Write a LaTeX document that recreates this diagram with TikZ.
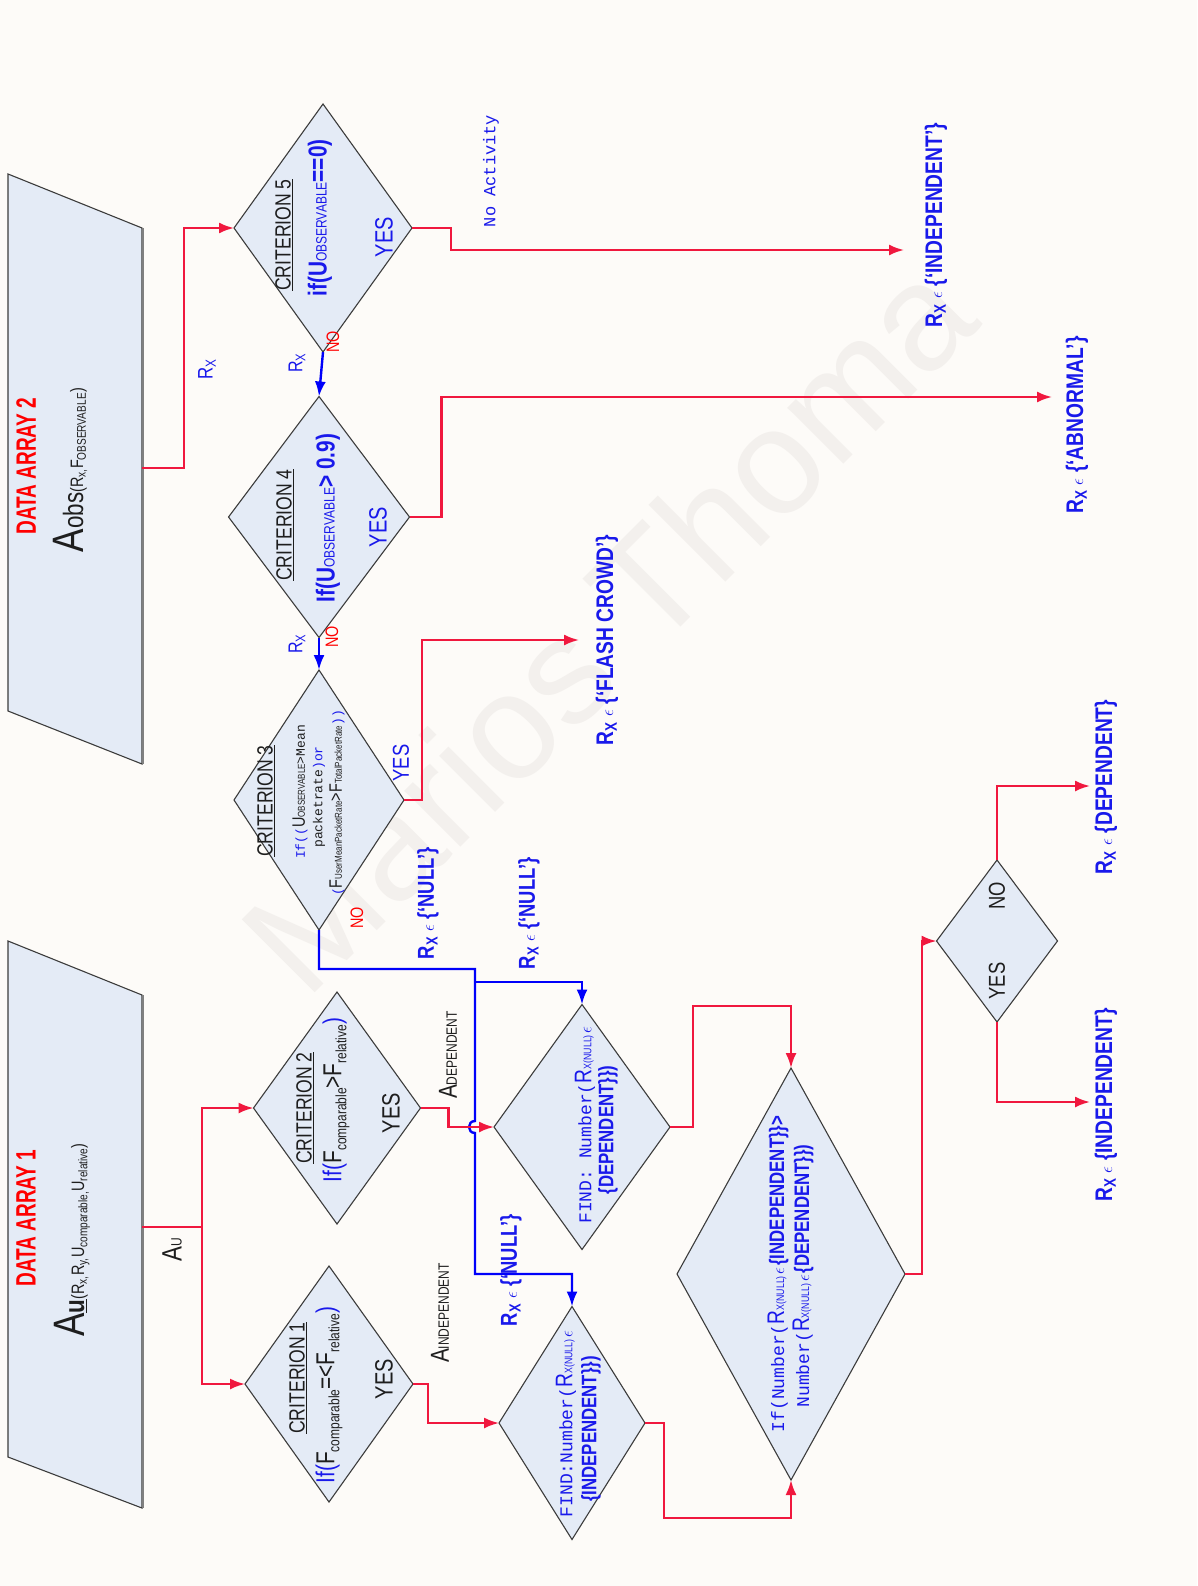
\documentclass[tikz,border=0pt]{standalone}
\usepackage{fontspec}
\setmainfont{Liberation Sans}
\newfontfamily\nar[FakeStretch=0.8]{Liberation Sans}
\newfontfamily\narr[FakeStretch=0.68]{Liberation Sans}
\newfontfamily\mon{Liberation Mono}
\usetikzlibrary{shapes.geometric,arrows.meta}

\definecolor{bg}{RGB}{253,251,248}
\definecolor{boxfill}{RGB}{228,235,246}
\definecolor{edge}{RGB}{60,60,60}
\definecolor{fr}{RGB}{240,24,62}
\definecolor{bl}{RGB}{0,0,250}
\definecolor{tb}{RGB}{25,25,235}
\definecolor{ink}{RGB}{30,30,30}
\definecolor{wm}{RGB}{243,240,237}

\newcommand\fs[1]{\fontsize{#1}{#1}\selectfont}
\newcommand\eps{{\fs{17}$\epsilon$}}

\tikzset{
  dec/.style={shape=diamond, draw=edge, fill=boxfill, line width=1.1pt,
              inner sep=0pt, outer sep=0pt},
  redline/.style={draw=fr, line width=2.2pt, line join=miter,
                  -{Latex[length=15pt,width=11pt]}},
  redplain/.style={draw=fr, line width=2.2pt},
  blueline/.style={draw=bl, line width=2.4pt,
                  -{Latex[length=15pt,width=11pt]}},
  txt/.style={rotate=90, inner sep=0pt, align=center, text=ink},
  res/.style={txt, text=tb, font=\nar\bfseries\fs{24}},
}

\begin{document}
\begin{tikzpicture}[x=1pt, y=-1pt]
\useasboundingbox (0,0) rectangle (1197,1586);
\fill[bg] (0,0) rectangle (1197,1586);

% watermark
\node[rotate=45, text=wm, inner sep=0pt] (wmark) at (607,625) {\fs{150}Marios Thoma};

% ---- data arrays ----
\filldraw[fill=boxfill, draw=edge, line width=1.1pt]
  (8,174) -- (142,228) -- (142,764) -- (8,711) -- cycle;
\draw[gray, line width=2.6pt] (143,228) -- (143,764);
\filldraw[fill=boxfill, draw=edge, line width=1.1pt]
  (8,941) -- (142,995) -- (142,1508) -- (8,1457) -- cycle;
\draw[gray, line width=2.6pt] (143,995) -- (143,1508);

\node[txt, text=red] (da2t) at (26,466) {\narr\bfseries\fs{28}DATA ARRAY 2};
\node[txt] (da2f) at (70,470)
  {\nar\fs{44}A\fs{28}obs\fs{18}(R\textsubscript{x,}F\textsubscript{OBSERVABLE})};
\node[txt, text=red] (da1t) at (26,1218) {\narr\bfseries\fs{28}DATA ARRAY 1};
\node[txt] (da1f) at (72,1240)
  {\nar\fs{44}A\fs{28}\textbf{\underline{u}}\fs{18}(R\textsubscript{x,}R\textsubscript{y,}U\textsubscript{comparable,}U\textsubscript{relative})};

\coordinate (da2o) at (142,468);
\coordinate (da1o) at (142,1227);
\coordinate (sp) at (202,1227);

% ---- decision diamonds ----
\node[dec, minimum width=178pt, minimum height=248pt] (c5) at (323,228) {};
\node[dec, minimum width=181pt, minimum height=241pt] (c4) at (319,517) {};
\node[dec, minimum width=170pt, minimum height=260pt] (c3) at (319,800) {};
\node[dec, minimum width=167pt, minimum height=232pt] (c2) at (337,1108) {};
\node[dec, minimum width=168pt, minimum height=236pt] (c1) at (329,1384) {};
\node[dec, minimum width=176pt, minimum height=245pt] (fdep) at (582,1127) {};
\node[dec, minimum width=146pt, minimum height=233pt] (findi) at (572,1423) {};
\node[dec, minimum width=228pt, minimum height=412pt] (big) at (791,1274) {};
\node[dec, minimum width=121pt, minimum height=162pt] (fin) at (997,941) {};

% criterion 5
\node[txt] (c5a) at (284,235) {\nar\fs{22}\underline{CRITERION 5}};
\node[txt, text=tb] (c5b) at (320,218)
  {\nar\bfseries\fs{26}if(U\mdseries\fs{15}OBSERVABLE\bfseries\fs{26}==0)};
\node[txt, text=tb] (c5c) at (384,237) {\nar\fs{25}YES};
% criterion 4
\node[txt] (c4a) at (285,525) {\nar\fs{22}\underline{CRITERION 4}};
\node[txt, text=tb] (c4b) at (328,518)
  {\nar\bfseries\fs{26}If(U\mdseries\fs{15}OBSERVABLE\bfseries\fs{26}> 0.9)};
\node[txt, text=tb] (c4c) at (378,527) {\nar\fs{25}YES};
% criterion 3
\node[txt] (c3a) at (266,801) {\nar\fs{22}\underline{CRITERION 3}};
\node[txt] (c3b) at (300,792)
  {{\color{tb}\mon\fs{13}If((}\nar\fs{18}U\fs{10}OBSERVABLE\mon\fs{13}>Mean};
\node[txt] (c3c) at (319,797) {\mon\fs{13}packetrate{\color{tb})or}};
\node[txt] (c3d) at (337,803)
  {{\color{tb}\mon\fs{13}(}\nar\fs{18}F\fs{10}UserMeanPacketRate\fs{18}>F\fs{10}TotalPacketRate{\color{tb}\mon\fs{13}))}};
\node[txt, text=tb] (c3e) at (401,763) {\nar\fs{23}YES};
\node[txt, text=red] (c3f) at (357,918) {\nar\fs{18}NO};
% criterion 2
\node[txt] (c2a) at (305,1108) {\nar\fs{22}\underline{CRITERION 2}};
\node[txt] (c2b) at (336,1100)
  {\nar\fs{26}{\color{tb}If(}F\raisebox{-5pt}{\fs{15}comparable}>F\raisebox{-5pt}{\fs{15}relative}{\color{tb})}};
\node[txt] (c2c) at (391,1113) {\nar\fs{25}YES};
% criterion 1
\node[txt] (c1a) at (298,1378) {\nar\fs{22}\underline{CRITERION 1}};
\node[txt] (c1b) at (329,1395)
  {\nar\fs{26}{\color{tb}If(}F\raisebox{-5pt}{\fs{15}comparable}=<F\raisebox{-5pt}{\fs{15}relative}{\color{tb})}};
\node[txt] (c1c) at (384,1379) {\nar\fs{25}YES};

% find / compare boxes
\node[txt, text=tb] (fdepa) at (585,1125)
  {\mon\fs{18}FIND: Number(\nar\fs{24}R\fs{11}X(NULL)\,\eps};
\node[txt, text=tb] (fdepb) at (608,1130) {\nar\bfseries\fs{21}\{DEPENDENT\}\})};
\node[txt, text=tb] (findia) at (566,1424)
  {\mon\fs{18}FIND:Number(\nar\fs{24}R\fs{11}X(NULL)\,\eps};
\node[txt, text=tb] (findib) at (591,1429) {\nar\bfseries\fs{21}\{INDEPENDENT\}\})};
\node[txt, text=tb] (biga) at (778,1274)
  {\mon\fs{18}If(Number(\nar\fs{24}R\fs{11}X(NULL)\,\eps\,\bfseries\fs{21}\{INDEPENDENT\}\}>};
\node[txt, text=tb] (bigb) at (803,1276)
  {\mon\fs{18}Number(\nar\fs{24}R\fs{11}X(NULL)\,\eps\,\bfseries\fs{21}\{DEPENDENT\}\})};
\node[txt] (fina) at (997,896) {\nar\fs{23}NO};
\node[txt] (finb) at (997,981) {\nar\fs{23}YES};

% ---- connectors ----
\draw[redline] (da2o) -- (184,468) |- (c5.west);
\node[txt, text=tb] (rx0) at (207,369) {\nar\fs{21}R\textsubscript{X}};

\coordinate (t5) at (904,250);
\coordinate (t4) at (1052,397);
\coordinate (t3) at (579,640);
\draw[redline] (c5.east) -- ++(39,0) |- (t5);
\draw[redline] (c4.east) -- ++(32,0) |- (t4);
\draw[redline] (c3.east) -- ++(18,0) |- (t3);

\draw[blueline] (c5.south) -- (c4.north);
\draw[blueline] (c4.south) -- (c3.north);
\node[txt, text=tb] (rx1) at (297,363) {\nar\fs{20}R\textsubscript{X}};
\node[txt, text=red] (no1) at (333,342) {\nar\fs{18}NO};
\node[txt, text=tb] (rx2) at (297,644) {\nar\fs{20}R\textsubscript{X}};
\node[txt, text=red] (no2) at (332,637) {\nar\fs{18}NO};

\node[txt, text=tb] (noact) at (491,171) {\mon\fs{17}No Activity};

% null branch
\coordinate (j1) at (475,969);
\coordinate (j2) at (475,982);
\coordinate (h1) at (475,1121);
\coordinate (h2) at (475,1133);
\coordinate (j3) at (475,1274);
\draw[blueline] (c3.south) |- (j1) -- (h1)
  .. controls (467,1121) and (467,1133) .. (h2) -- (j3) -| (findi.north);
\draw[blueline] (j2) -| (fdep.north);

% data array 1 branches
\draw[redplain] (da1o) -- (sp);
\draw[redline] (sp) |- (c2.west);
\draw[redline] (sp) |- (c1.west);
\node[txt] (au) at (172,1250) {\nar\fs{28}A\fs{15}U};

\draw[redline] (c2.east) -- ++(28,0) |- (fdep.west);
\draw[redline] (c1.east) -- ++(15,0) |- (findi.west);
\node[txt] (adep) at (448,1055) {\nar\fs{26}A\fs{15}DEPENDENT};
\node[txt] (aind) at (440,1313) {\nar\fs{26}A\fs{15}INDEPENDENT};

\coordinate (bigtop) at (791,1006);
\coordinate (bigbot) at (791,1518);
\draw[redline] (fdep.east) -- ++(23,0) |- (bigtop) -- (big.north);
\draw[redline] (findi.east) -- ++(19,0) |- (bigbot) -- (big.south);
\draw[redline] (big.east) -- ++(17,0) |- (fin.west);

\coordinate (tD) at (1090,786);
\coordinate (tI) at (1090,1102);
\draw[redline] (fin.north) |- (tD);
\draw[redline] (fin.south) |- (tI);

% ---- result labels ----
\node[txt, text=tb] (n1) at (428,903) {\nar\bfseries\fs{23}R\textsubscript{X} \eps{} \{‘NULL’\}};
\node[txt, text=tb] (n2) at (529,913) {\nar\bfseries\fs{23}R\textsubscript{X} \eps{} \{‘NULL’\}};
\node[txt, text=tb] (n3) at (511,1270) {\nar\bfseries\fs{23}R\textsubscript{X} \eps{} \{‘NULL’\}};
\node[res] (l5) at (936,225) {R\textsubscript{X} \eps{} \{‘INDEPENDENT’\}};
\node[res] (l4) at (1077,425) {R\textsubscript{X} \eps{} \{‘ABNORMAL’\}};
\node[res] (l3) at (607,640) {R\textsubscript{X} \eps{} \{‘FLASH CROWD’\}};
\node[res] (lD) at (1106,787) {R\textsubscript{X} \eps{} \{DEPENDENT\}};
\node[res] (lI) at (1106,1105) {R\textsubscript{X} \eps{} \{INDEPENDENT\}};
\end{tikzpicture}
\end{document}
